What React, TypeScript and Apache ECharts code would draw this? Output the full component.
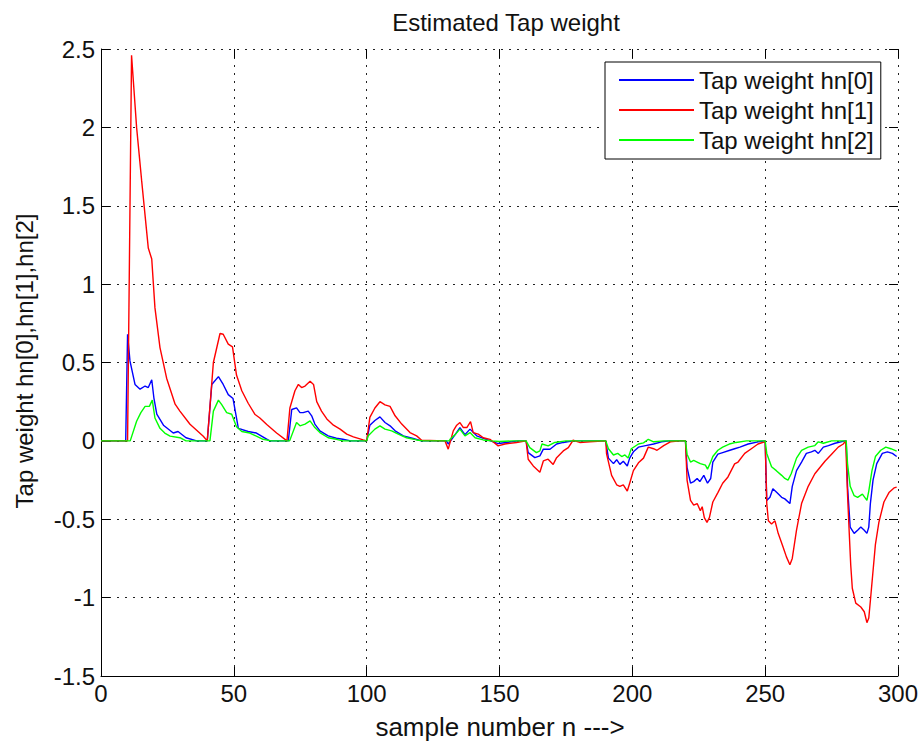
import React, { useEffect, useRef } from "react";
import * as echarts from "echarts";

const seriesNames = ["Tap weight hn[0]", "Tap weight hn[1]", "Tap weight hn[2]"];
const seriesColors = ["#0000ff", "#ff0000", "#00ff00"];
const xTicks = [0, 50, 100, 150, 200, 250, 300];
const yTicks = [-1.5, -1, -0.5, 0, 0.5, 1, 1.5, 2, 2.5];

const hn0: [number, number][] = [
  [0, 0], [9.3, 0], [10, 0.68], [10.9, 0.51], [12.8, 0.36], [14.7, 0.33], [16.6, 0.35], [17.8, 0.34], [19.1, 0.39], [19.9, 0.275], [21, 0.17], [23.5, 0.1], [27.2, 0.05], [29, 0.06], [32, 0.02], [36, 0], [40, 0],
  [41.7, 0.36], [44.2, 0.41], [46, 0.36], [47.9, 0.295], [49.7, 0.27], [51.7, 0.08], [55.4, 0.06], [58.5, 0.05], [63.5, 0], [70.5, 0],
  [71.8, 0.2], [73.6, 0.21], [74.9, 0.18], [76.1, 0.18], [78, 0.19], [79.3, 0.16], [80.5, 0.107], [82.4, 0.064], [85.5, 0.032], [88.6, 0.017], [91, 0.01], [94, 0], [100, 0],
  [101.2, 0.1], [103.1, 0.13], [105, 0.153], [106.9, 0.117], [108.8, 0.096], [110.7, 0.064], [113.8, 0.032], [117.5, 0.015], [120.7, 0], [130, 0],
  [130.7, -0.02], [133.3, 0.04], [135.1, 0.085], [137, 0.04], [138.9, 0.075], [141.4, 0.032], [145, 0.01], [149.5, -0.017], [152.6, -0.01], [157, 0], [160, 0],
  [160.8, -0.075], [163.3, -0.107], [165.2, -0.096], [166.5, -0.053], [169, -0.053], [171.5, -0.02], [174, -0.01], [177.7, 0], [190, 0],
  [191, -0.11], [192.9, -0.145], [194.1, -0.12], [195.3, -0.15], [196.6, -0.13], [198.1, -0.16], [199, -0.11], [200.4, -0.07], [202.3, -0.04], [205, -0.03], [208, -0.02], [211, -0.006], [214, 0], [220, 0],
  [220.6, -0.17], [221.9, -0.27], [223.1, -0.26], [224.4, -0.24], [225.4, -0.26], [226.9, -0.22], [228.3, -0.27], [229.5, -0.24], [230.3, -0.135], [232.2, -0.085], [234, -0.075], [236.7, -0.06], [238.5, -0.05], [240.5, -0.04], [243.6, -0.02], [247.3, -0.006], [250, 0],
  [250.6, -0.38], [251.8, -0.36], [252.9, -0.305], [254.4, -0.33], [256.2, -0.36], [257.4, -0.37], [259.3, -0.4], [260.2, -0.29], [261.8, -0.19], [263.7, -0.135], [265.5, -0.08], [267.4, -0.07], [268.7, -0.06], [270, -0.08], [271.9, -0.04], [273.8, -0.03], [276.3, -0.015], [280, 0], [280.5, 0],
  [281, -0.29], [282, -0.55], [283.5, -0.59], [284.8, -0.57], [286, -0.55], [287.3, -0.57], [288.3, -0.59], [289, -0.55], [289.6, -0.4], [290.6, -0.25], [292, -0.145], [294.1, -0.08], [296, -0.07], [297.9, -0.08], [299.5, -0.1],
];

const hn1: [number, number][] = [
  [0, 0], [10, 0], [11.5, 2.46], [13.4, 2.0], [15.3, 1.66], [17.8, 1.23], [19.1, 1.16], [20.3, 0.85], [22.2, 0.595], [24.7, 0.4], [27.9, 0.234], [29.7, 0.19], [33.5, 0.106], [38.5, 0.03], [40, 0],
  [42.3, 0.5], [44.8, 0.685], [46, 0.68], [47.9, 0.617], [49.5, 0.6], [51, 0.42], [53, 0.32], [55.4, 0.24], [58, 0.168], [59.8, 0.146], [62.4, 0.104], [66.1, 0.05], [70, 0],
  [71.1, 0.21], [73, 0.32], [74.3, 0.36], [75.5, 0.34], [76.8, 0.35], [78.7, 0.38], [80, 0.36], [81.2, 0.25], [83, 0.19], [85, 0.14], [87.5, 0.1], [90, 0.075], [92.5, 0.043], [95, 0.026], [98.7, 0.006], [100, 0],
  [101.2, 0.15], [103.1, 0.21], [105, 0.25], [106.9, 0.23], [108.8, 0.22], [110.7, 0.16], [113.2, 0.107], [116.3, 0.053], [118.8, 0.032], [120.7, 0.004], [129.5, 0],
  [130.7, -0.053], [132.6, 0.064], [133.9, 0.1], [135.1, 0.117], [136.4, 0.085], [137.7, 0.085], [139.1, 0.123], [140.1, 0.053], [142, 0.043], [143.9, 0.02], [146.4, 0.01], [149.5, -0.032], [152, -0.02], [156.4, -0.01], [160, 0],
  [160.8, -0.117], [162.7, -0.16], [165.2, -0.2], [166.5, -0.128], [168.3, -0.117], [170.2, -0.15], [171.5, -0.107], [174, -0.064], [175.9, -0.043], [177.7, 0.004], [180.2, -0.01], [184, -0.006], [190, 0],
  [190.3, -0.083], [192.2, -0.22], [194.1, -0.28], [195.3, -0.29], [196.6, -0.28], [198.1, -0.32], [199, -0.27], [200.4, -0.19], [202.3, -0.14], [204.2, -0.11], [206, -0.04], [208, -0.05], [209.3, -0.06], [211.8, -0.03], [214.3, -0.006], [218, 0], [220, 0],
  [220.6, -0.25], [221.9, -0.38], [223.1, -0.41], [224.4, -0.4], [225.6, -0.445], [226.3, -0.42], [227.1, -0.49], [228.1, -0.52], [229, -0.49], [230.3, -0.39], [232.2, -0.33], [234, -0.27], [236, -0.23], [238.5, -0.147], [239.8, -0.135], [242.3, -0.08], [244.8, -0.05], [247.3, -0.02], [249.8, -0.006], [250, 0],
  [250.6, -0.4], [251.2, -0.51], [252.4, -0.53], [253.7, -0.51], [254.9, -0.59], [256.8, -0.68], [258, -0.74], [259.3, -0.79], [260.2, -0.75], [261.8, -0.57], [263.7, -0.4], [266.2, -0.29], [268.7, -0.21], [270.6, -0.17], [272.5, -0.13], [275, -0.085], [277.5, -0.04], [279.4, -0.02], [280.3, 0],
  [281, -0.34], [281.6, -0.57], [282.2, -0.79], [282.8, -0.94], [284.1, -1.035], [286, -1.06], [287.3, -1.09], [288.3, -1.16], [289, -1.13], [289.6, -1.02], [290.6, -0.83], [291.5, -0.66], [292.8, -0.52], [294.7, -0.39], [296.6, -0.33], [298.5, -0.3], [299.5, -0.295],
];

const hn2: [number, number][] = [
  [0, 0], [11, 0], [13.4, 0.125], [15, 0.18], [16.6, 0.22], [18.2, 0.22], [19.3, 0.26], [20.3, 0.146], [22.2, 0.08], [24, 0.05], [26, 0.03], [29.7, 0.02], [32, 0], [41, 0],
  [42.3, 0.19], [44.2, 0.26], [45.5, 0.23], [47.3, 0.18], [49.2, 0.17], [51, 0.09], [53, 0.06], [56, 0.05], [61, 0.01], [64, 0], [71, 0],
  [73.6, 0.117], [74.9, 0.096], [76.8, 0.107], [78.7, 0.128], [80.5, 0.085], [82.4, 0.053], [85.5, 0.02], [88.6, 0.01], [91, 0], [100, 0],
  [100.6, 0.032], [103.1, 0.075], [105, 0.096], [106.9, 0.075], [109.4, 0.064], [111.9, 0.043], [115, 0.02], [118.8, 0.006], [121, 0], [131, 0],
  [131.4, 0.01], [133.3, 0.04], [135.1, 0.075], [137, 0.032], [138.9, 0.053], [140.8, 0.02], [143.9, 0.006], [147, 0], [150, -0.004], [155, 0], [160, 0],
  [161.4, -0.043], [163.9, -0.075], [165.2, -0.064], [166, -0.02], [168.3, -0.032], [170.8, -0.01], [175, 0], [190, 0],
  [191, -0.05], [192.9, -0.09], [194.5, -0.08], [196, -0.1], [197.2, -0.09], [198.4, -0.11], [199.6, -0.05], [202.3, -0.02], [204.2, -0.013], [206, 0.01], [208, -0.006], [212, 0], [220, 0],
  [220.6, -0.085], [221.9, -0.135], [223.1, -0.125], [224.4, -0.135], [225.6, -0.145], [227.5, -0.155], [228.3, -0.18], [229.5, -0.135], [230.3, -0.1], [232.2, -0.06], [234, -0.04], [236.5, -0.02], [239, -0.01], [243, 0], [250, 0],
  [250.6, -0.08], [252.4, -0.165], [254.2, -0.19], [256.2, -0.22], [257.4, -0.24], [258.6, -0.25], [259.8, -0.21], [261.8, -0.11], [263.7, -0.06], [266.2, -0.04], [268.7, -0.03], [270, -0.006], [271.9, -0.015], [275, 0], [280.5, 0],
  [281, -0.145], [282, -0.29], [283.5, -0.35], [284.8, -0.36], [286.6, -0.34], [288.3, -0.38], [289, -0.32], [290.2, -0.19], [291.5, -0.1], [293.5, -0.06], [295.4, -0.04], [297.3, -0.05], [299.5, -0.065],
];

const titleText = "Estimated Tap weight";
const xAxisTitle = "sample number n --->";
const yAxisTitle = "Tap weight hn[0],hn[1],hn[2]";

const FONT = "'Liberation Sans', Arial, Helvetica, sans-serif";

export default function App() {
  const ref = useRef<HTMLDivElement>(null);
  useEffect(() => {
    if (!ref.current) return;
    const chart = echarts.init(ref.current, null, { renderer: "svg" });
    const grid = { left: 101, top: 49, width: 797, height: 627 };
    const gridLine = { show: true, lineStyle: { color: "#222", width: 1, type: [2, 6] as any } };
    const tick = { show: true, inside: true, length: 9, lineStyle: { color: "#000", width: 1 } };
    const label = { fontSize: 24, color: "#111", fontFamily: FONT };
    const datasets = [hn0, hn1, hn2];
    chart.setOption({
      animation: false,
      backgroundColor: "#fff",
      textStyle: { fontFamily: FONT },
      grid: { ...grid, containLabel: false },
      legend: {
        orient: "vertical",
        left: 605,
        top: 62,
        data: seriesNames.map((n) => ({ name: n, icon: "rect" })),
        itemWidth: 75,
        itemHeight: 2,
        itemGap: 0,
        padding: [3, 7, 4, 14],
        borderColor: "#000",
        borderWidth: 1,
        borderRadius: 0,
        backgroundColor: "#fff",
        textStyle: { fontSize: 24, color: "#111", fontFamily: FONT, lineHeight: 30 },
      },
      xAxis: [
        {
          type: "value", min: 0, max: 300, interval: 50, position: "bottom",
          axisLine: { show: true, onZero: false, lineStyle: { color: "#000", width: 1 } },
          axisTick: tick,
          axisLabel: { ...label, margin: 5, formatter: (v: number) => (xTicks.includes(v) ? String(v) : "") },
          splitLine: gridLine,
        },
        {
          type: "value", min: 0, max: 300, interval: 50, position: "top",
          axisLine: { show: false, onZero: false }, axisTick: tick, axisLabel: { show: false }, splitLine: { show: false },
        },
      ],
      yAxis: [
        {
          type: "value", min: -1.5, max: 2.5, interval: 0.5, position: "left",
          axisLine: { show: true, onZero: false, lineStyle: { color: "#000", width: 1 } },
          axisTick: tick,
          axisLabel: { ...label, margin: 6, formatter: (v: number) => (yTicks.includes(v) ? String(v) : "") },
          splitLine: gridLine,
        },
        {
          type: "value", min: -1.5, max: 2.5, interval: 0.5, position: "right",
          axisLine: { show: false, onZero: false }, axisTick: tick, axisLabel: { show: false }, splitLine: { show: false },
        },
      ],
      series: datasets.map((d, i) => ({
        name: seriesNames[i],
        type: "line",
        data: d,
        symbol: "none",
        xAxisIndex: 0,
        yAxisIndex: 0,
        lineStyle: { color: seriesColors[i], width: 1.4 },
        itemStyle: { color: seriesColors[i] },
        z: 2 + i,
      })),
      graphic: [
        {
          type: "text", x: 506, y: 22,
          style: { text: titleText, fontSize: 24, fill: "#111", fontFamily: FONT, align: "center", verticalAlign: "middle" },
        },
        {
          type: "text", x: 500, y: 727,
          style: { text: xAxisTitle, fontSize: 26, fill: "#111", fontFamily: FONT, align: "center", verticalAlign: "middle" },
        },
        {
          type: "text", x: 24, y: 361, rotation: Math.PI / 2,
          style: { text: yAxisTitle, fontSize: 24, fill: "#111", fontFamily: FONT, align: "center", verticalAlign: "middle" },
        },
      ],
    });
    return () => chart.dispose();
  }, []);
  return <div ref={ref} style={{ position: "absolute", left: 0, top: 0, width: 922, height: 742, background: "#fff" }} />;
}
